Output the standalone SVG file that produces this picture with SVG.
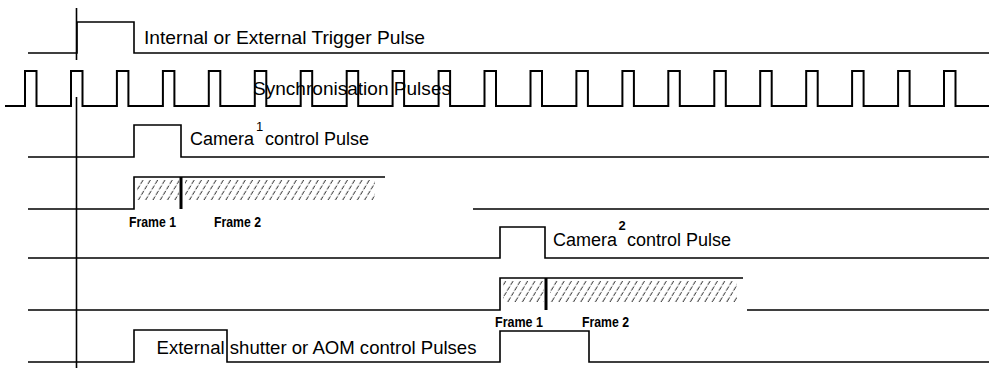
<svg xmlns="http://www.w3.org/2000/svg" width="989" height="368" viewBox="0 0 989 368">
<style>
  .wave{fill:none;stroke:#000;stroke-width:1.6;stroke-linejoin:miter}
  .sync{fill:none;stroke:#000;stroke-width:2}
  .lbl{font-family:"Liberation Sans",Arial,sans-serif;font-size:19px;fill:#000}
  .cam{font-family:"Liberation Sans",Arial,sans-serif;font-size:18px;fill:#000}
  .sup{font-family:"Liberation Sans",Arial,sans-serif;font-size:13px;fill:#000}
  .frm{font-family:"Liberation Sans",Arial,sans-serif;font-size:14.5px;font-weight:bold;fill:#000}
  .bar{fill:#000}
</style>
<defs>
  <pattern id="hatch" patternUnits="userSpaceOnUse" width="7.3" height="30" patternTransform="skewX(-31)">
    <line x1="3" y1="0" x2="3" y2="30" stroke="#222" stroke-width="1" stroke-dasharray="4 1.5"/>
  </pattern>
</defs>
<rect width="989" height="368" fill="#fff"/>
<g id="axis">
  <path class="wave" d="M76.5,8 V60 M76.5,97 V368"/>
</g>
<g id="trigger">
  <path class="wave" d="M28,53 H77 V22 H134 V53 H989"/>
  <text class="lbl" x="144" y="44" textLength="281" lengthAdjust="spacingAndGlyphs">Internal or External Trigger Pulse</text>
</g>
<g id="sync">
  <path class="sync" d="M5,106 H25 V71 H36.5 V106 H71 V71 H82.5 V106 H116.9 V71 H128.4 V106 H162.9 V71 H174.4 V106 H208.8 V71 H220.3 V106 H254.8 V71 H266.3 V106 H300.7 V71 H312.2 V106 H346.7 V71 H358.2 V106 H392.6 V71 H404.1 V106 H438.6 V71 H450.1 V106 H484.5 V71 H496 V106 H530.5 V71 H542 V106 H576.4 V71 H587.9 V106 H622.4 V71 H633.9 V106 H668.3 V71 H679.8 V106 H714.3 V71 H725.8 V106 H760.2 V71 H771.7 V106 H806.2 V71 H817.7 V106 H852.1 V71 H863.6 V106 H898.1 V71 H909.6 V106 H944 V71 H955.5 V106 H989"/>
  <text class="lbl" x="253" y="95" textLength="198" lengthAdjust="spacingAndGlyphs">Synchronisation Pulses</text>
</g>
<g id="camera1">
  <path class="wave" d="M28,157 H134 V125 H181 V157 H989"/>
  <text class="cam" x="190" y="145">Camera</text>
  <text class="sup" x="256" y="131">1</text>
  <text class="cam" x="265" y="145">control Pulse</text>
</g>
<g id="frames1">
  <rect x="137" y="180" width="42" height="20" fill="url(#hatch)"/>
  <rect x="185" y="180" width="190" height="20" fill="url(#hatch)"/>
  <path class="wave" d="M28,209 H134 V177 H385 M473,209 H989"/>
  <rect class="bar" x="179.5" y="177" width="3" height="32"/>
  <text class="frm" x="129" y="227" textLength="47" lengthAdjust="spacingAndGlyphs">Frame 1</text>
  <text class="frm" x="214" y="227" textLength="47" lengthAdjust="spacingAndGlyphs">Frame 2</text>
</g>
<g id="camera2">
  <path class="wave" d="M28,258 H500 V227 H545 V258 H989"/>
  <text class="cam" x="553" y="246">Camera</text>
  <text class="sup" x="618.5" y="230" font-weight="bold">2</text>
  <text class="cam" x="627" y="246">control Pulse</text>
</g>
<g id="frames2">
  <rect x="503" y="281" width="41" height="21" fill="url(#hatch)"/>
  <rect x="550" y="281" width="187" height="21" fill="url(#hatch)"/>
  <path class="wave" d="M28,310 H500 V278 H743 M747,310 H989"/>
  <rect class="bar" x="544.5" y="278" width="3" height="32"/>
  <text class="frm" x="495" y="327" textLength="48" lengthAdjust="spacingAndGlyphs">Frame 1</text>
  <text class="frm" x="582" y="327" textLength="47" lengthAdjust="spacingAndGlyphs">Frame 2</text>
</g>
<g id="shutter">
  <path class="wave" d="M28,362 H134 V330 H227 V362 H500 V331 H589 V362 H989"/>
  <text class="lbl" x="156.5" y="354" textLength="320" lengthAdjust="spacingAndGlyphs">External shutter or AOM control Pulses</text>
</g>
</svg>
